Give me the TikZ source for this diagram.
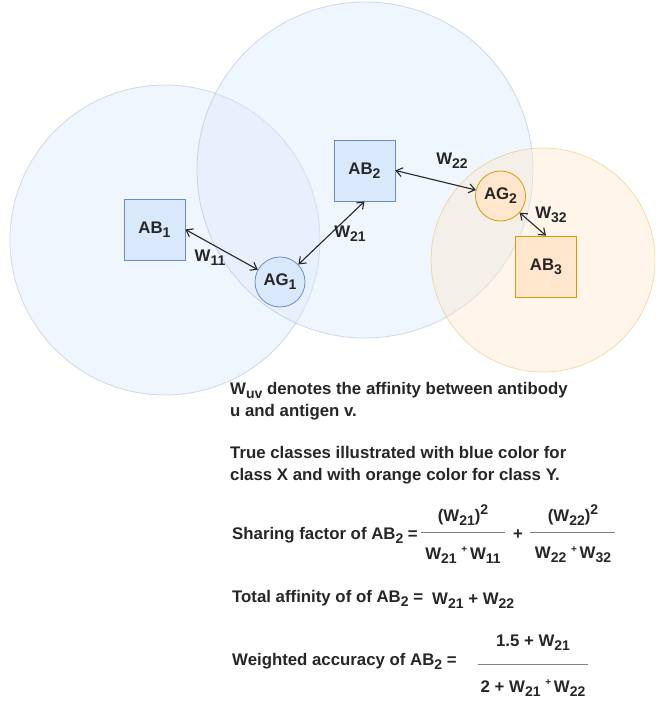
\documentclass[tikz,border=0pt]{standalone}
\usepackage{fontspec}
\setmainfont{Liberation Sans}
\usetikzlibrary{arrows.meta}

\definecolor{abfill}{HTML}{DAE8FC}
\definecolor{abline}{HTML}{6C8EBF}
\definecolor{agfill}{HTML}{FFE6CC}
\definecolor{agline}{HTML}{D79B00}

\newcommand{\lsub}[1]{\raisebox{-0.45ex}{\fontsize{14}{14}\selectfont #1}}
\newcommand{\usup}[1]{\raisebox{0.85ex}{\fontsize{14}{14}\selectfont #1}}
\newcommand{\tplus}{\raisebox{0.7ex}{\fontsize{10}{10}\selectfont +}}

\begin{document}
\begin{tikzpicture}[x=1pt, y=-1pt,
  every node/.style={font=\bfseries\fontsize{16.8}{22}\selectfont, text=black!85},
  absq/.style={draw=abline, fill=abfill, minimum size=61pt, inner sep=0pt, line width=0.8pt},
  abcirc/.style={circle, draw=abline, fill=abfill, minimum size=50pt, inner sep=0pt, line width=0.8pt},
  agsq/.style={draw=agline, fill=agfill, minimum size=61pt, inner sep=0pt, line width=0.8pt},
  agcirc/.style={circle, draw=agline, fill=agfill, minimum size=50pt, inner sep=0pt, line width=0.8pt},
  zone/.style={fill opacity=0.38, draw opacity=0.3, line width=0.8pt},
  link/.style={{Straight Barb[length=6pt,width=9pt]}-{Straight Barb[length=6pt,width=9pt]}, black!85, line width=1.1pt},
  bar/.style={gray, line width=0.6pt}]
  \clip (0,0) rectangle (655,703);
  \useasboundingbox (0,0) rectangle (655,703);
  \fill[white] (0,0) rectangle (655,703);

  % class regions
  \draw[zone, fill=abfill, draw=abline] (165,240) circle (155);
  \draw[zone, fill=abfill, draw=abline] (365,170) circle (168);
  \draw[zone, fill=agfill, draw=agline] (543,260) circle (112);

  % antibodies and antigens
  \node[absq] (ab1) at (154.5,229.5) {AB\lsub{1}};
  \node[absq] (ab2) at (364.5,170.5) {AB\lsub{2}};
  \node[agsq] (ab3) at (546,266.5) {AB\lsub{3}};
  \node[abcirc] (ag1) at (280,282) {AG\lsub{1}};
  \node[agcirc] (ag2) at (500.5,196) {AG\lsub{2}};

  % affinities
  \draw[link] (ab1.east) -- (ag1);
  \draw[link] (ag1) -- (ab2.south);
  \draw[link] (ab2.east) -- (ag2);
  \draw[link] (ag2) -- (ab3.north);
  \node (w11) at (210,258) {W\lsub{11}};
  \node (w21) at (350,234) {W\lsub{21}};
  \node (w22) at (452,161) {W\lsub{22}};
  \node (w32) at (551,215) {W\lsub{32}};

  % notes
  \node[anchor=north west, align=left, inner sep=0pt] (note1) at (230,382)
    {W\lsub{uv} denotes the affinity between antibody\\u and antigen v.};
  \node[anchor=north west, align=left, inner sep=0pt] (note2) at (230,446)
    {True classes illustrated with blue color for\\class X and with orange color for class Y.};

  % sharing factor
  \node[anchor=west, inner sep=0pt] (share) at (232,535) {Sharing factor of AB\lsub{2} =};
  \draw[bar] (421,532) -- (505,532);
  \node (n1) at (463,515) {(W\lsub{21})\usup{2}};
  \node (d1) at (463,555) {W\lsub{21} \tplus\,W\lsub{11}};
  \node (plus) at (518,535) {+};
  \draw[bar] (530,532) -- (615,532);
  \node (n2) at (573,515) {(W\lsub{22})\usup{2}};
  \node (d2) at (573,555) {W\lsub{22} \tplus\,W\lsub{32}};

  % total affinity
  \node[anchor=west, inner sep=0pt] (total) at (232,598) {Total affinity of of AB\lsub{2} =};
  \node[anchor=west, inner sep=0pt] (tsum) at (432,601) {W\lsub{21} + W\lsub{22}};

  % weighted accuracy
  \node[anchor=west, inner sep=0pt] (wacc) at (232,661) {Weighted accuracy of AB\lsub{2} =};
  \draw[bar] (478,664) -- (588,664);
  \node (n3) at (533,643) {1.5 + W\lsub{21}};
  \node (d3) at (533,688) {2 + W\lsub{21} \tplus\,W\lsub{22}};
\end{tikzpicture}
\end{document}
